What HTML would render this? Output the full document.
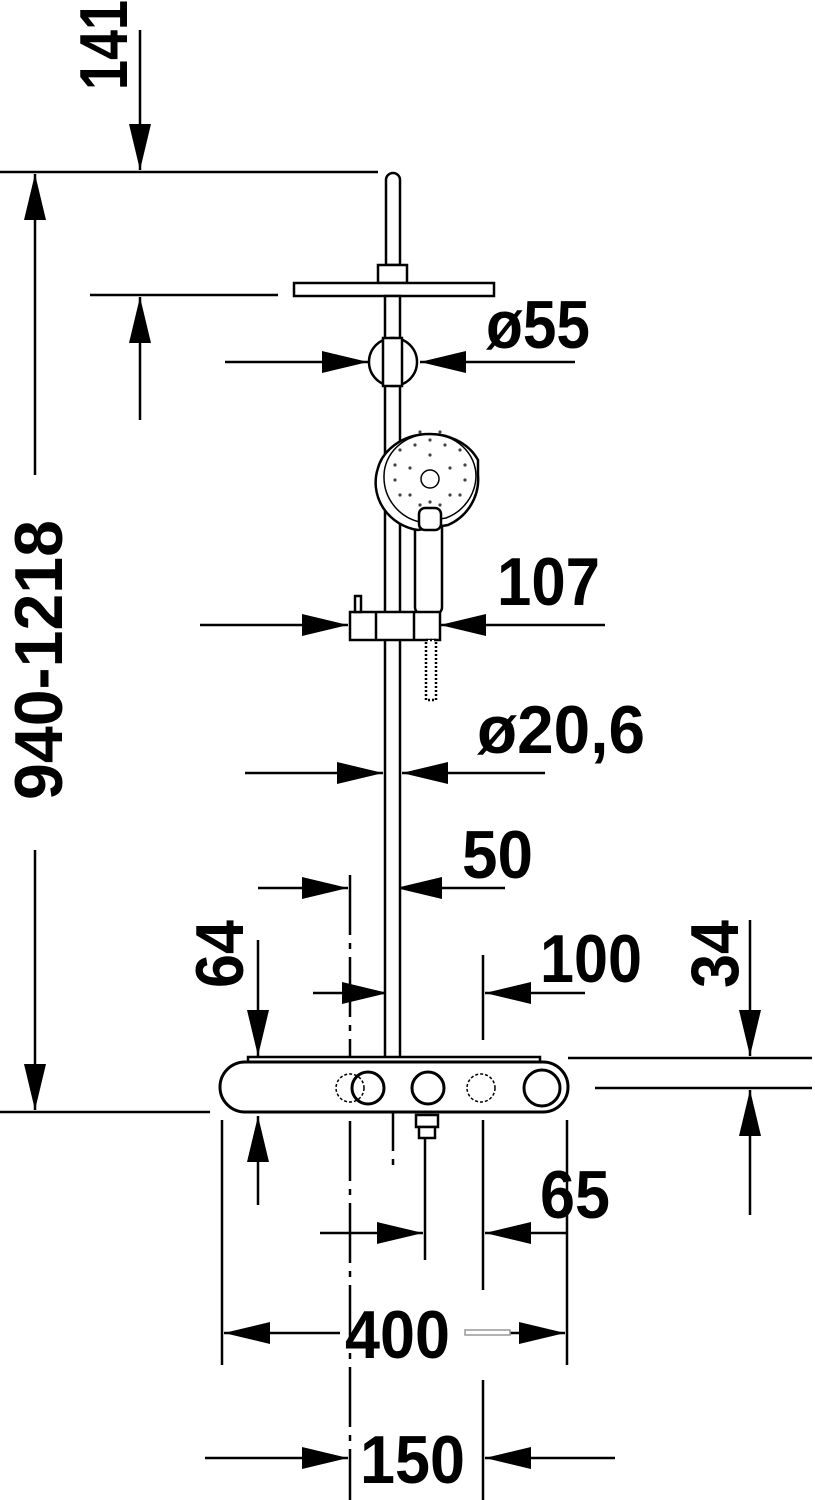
<!DOCTYPE html>
<html><head><style>
html,body{margin:0;padding:0;background:#fff}
svg{display:block}
text{font-family:"Liberation Sans Narrow","Liberation Sans",sans-serif;font-weight:bold;fill:#000}
</style></head><body>
<svg width="815" height="1500" viewBox="0 0 815 1500" xmlns="http://www.w3.org/2000/svg">
<defs>
<marker id="a" markerUnits="userSpaceOnUse" markerWidth="48" markerHeight="22" refX="46" refY="11" orient="auto">
<polygon points="0,0 46,11 0,22" fill="#000"/>
</marker>
</defs>
<g stroke="#000" stroke-width="2.5" fill="none">
<line x1="0" y1="172" x2="378" y2="172"/>
<line x1="90" y1="295" x2="278" y2="295"/>
<line x1="0" y1="1112" x2="210" y2="1112"/>
<line x1="568" y1="1058" x2="812" y2="1058"/>
<line x1="595" y1="1088" x2="812" y2="1088"/>
<line x1="222" y1="1120" x2="222" y2="1365"/>
<line x1="567" y1="1120" x2="567" y2="1365"/>
<line x1="483" y1="955" x2="483" y2="1040"/>
<line x1="483" y1="1120" x2="483" y2="1290"/>
<line x1="483" y1="1380" x2="483" y2="1500"/>
<line x1="350" y1="875" x2="350" y2="1500" stroke-dasharray="60,8,6,8"/>
<line x1="393" y1="845" x2="393" y2="1170" stroke-dasharray="60,8,6,8"/>
<line x1="425" y1="1125" x2="425" y2="1260"/>
<line x1="140" y1="30" x2="140" y2="170" marker-end="url(#a)"/>
<line x1="140" y1="420" x2="140" y2="297" marker-end="url(#a)"/>
<line x1="35" y1="475" x2="35" y2="174" marker-end="url(#a)"/>
<line x1="35" y1="850" x2="35" y2="1110" marker-end="url(#a)"/>
<line x1="225" y1="362" x2="368" y2="362" marker-end="url(#a)"/>
<line x1="575" y1="362" x2="420" y2="362" marker-end="url(#a)"/>
<line x1="200" y1="625" x2="348" y2="625" marker-end="url(#a)"/>
<line x1="605" y1="625" x2="440" y2="625" marker-end="url(#a)"/>
<line x1="245" y1="773" x2="383" y2="773" marker-end="url(#a)"/>
<line x1="545" y1="773" x2="402" y2="773" marker-end="url(#a)"/>
<line x1="258" y1="888" x2="348" y2="888" marker-end="url(#a)"/>
<line x1="505" y1="888" x2="396" y2="888" marker-end="url(#a)"/>
<line x1="258" y1="940" x2="258" y2="1056" marker-end="url(#a)"/>
<line x1="258" y1="1205" x2="258" y2="1116" marker-end="url(#a)"/>
<line x1="313" y1="993" x2="388" y2="993" marker-end="url(#a)"/>
<line x1="585" y1="993" x2="485" y2="993" marker-end="url(#a)"/>
<line x1="750" y1="920" x2="750" y2="1056" marker-end="url(#a)"/>
<line x1="750" y1="1215" x2="750" y2="1090" marker-end="url(#a)"/>
<line x1="320" y1="1233" x2="423" y2="1233" marker-end="url(#a)"/>
<line x1="567" y1="1233" x2="485" y2="1233" marker-end="url(#a)"/>
<line x1="340" y1="1333" x2="224" y2="1333" marker-end="url(#a)"/>
<line x1="510" y1="1333" x2="565" y2="1333" marker-end="url(#a)"/>
<line x1="205" y1="1458" x2="348" y2="1458" marker-end="url(#a)"/>
<line x1="615" y1="1458" x2="485" y2="1458" marker-end="url(#a)"/>
</g>
<rect x="465" y="1330" width="45" height="5" fill="#fff" stroke="#999" stroke-width="1.5"/>
<g stroke="#000" stroke-width="2.5" fill="#fff">
<path d="M386,265 V180 a7,7 0 0 1 14,0 V265 Z"/>
<rect x="378" y="265" width="29" height="18"/>
<rect x="294" y="283" width="200" height="13"/>
<rect x="385" y="296" width="15" height="762"/>
<circle cx="393" cy="362" r="24"/>
<rect x="383" y="338" width="19" height="48"/>
<rect x="415" y="505" width="27" height="110" rx="8"/>
<path d="M378,468 a53,44 0 0 1 100,-8 L478,475 a50,50 0 0 1 -30,50 L418,530 a50,48 0 0 1 -40,-62 Z"/>
<path d="M384,476 a46,42 0 0 1 92,0 a46,46 0 0 1 -30,42 L420,522 a46,46 0 0 1 -36,-46 Z" fill="none" stroke-width="1.5"/>
<rect x="419" y="508" width="22" height="22" rx="6"/>
<circle cx="430" cy="479" r="9" stroke-width="1.5"/>
<rect x="350" y="612" width="90" height="28"/>
<line x1="376" y1="612" x2="376" y2="640"/>
<line x1="414" y1="612" x2="414" y2="640"/>
<rect x="355" y="596" width="6" height="16"/>
<rect x="426" y="640" width="10" height="60" stroke-dasharray="2,2"/>
<rect x="248" y="1057" width="292" height="6"/>
<rect x="220" y="1062" width="348" height="50" rx="25" stroke-width="3"/>
<circle cx="368" cy="1088" r="16" stroke-width="3"/>
<circle cx="428" cy="1088" r="16" stroke-width="3"/>
<circle cx="542" cy="1088" r="18" stroke-width="3"/>
<circle cx="350" cy="1088" r="14" stroke-width="1.5" stroke-dasharray="3,2" fill="none"/>
<circle cx="481" cy="1088" r="14" stroke-width="1.5" stroke-dasharray="3,2" fill="none"/>
<rect x="416" y="1115" width="22" height="12"/>
<rect x="419" y="1127" width="16" height="11"/>
</g>
<g fill="#444">
<circle cx="430" cy="455" r="1.6"/><circle cx="410" cy="468" r="1.6"/><circle cx="450" cy="468" r="1.6"/>
<circle cx="400" cy="450" r="1.6"/><circle cx="460" cy="450" r="1.6"/><circle cx="395" cy="480" r="1.6"/><circle cx="465" cy="480" r="1.6"/>
<circle cx="430" cy="440" r="1.6"/><circle cx="415" cy="445" r="1.6"/><circle cx="445" cy="445" r="1.6"/>
<circle cx="410" cy="495" r="1.6"/><circle cx="450" cy="495" r="1.6"/><circle cx="430" cy="502" r="1.6"/>
<circle cx="395" cy="465" r="1.6"/><circle cx="465" cy="465" r="1.6"/><circle cx="400" cy="495" r="1.6"/><circle cx="460" cy="495" r="1.6"/>
<circle cx="420" cy="505" r="1.6"/><circle cx="440" cy="505" r="1.6"/><circle cx="420" cy="432" r="1.6"/><circle cx="440" cy="432" r="1.6"/>
</g>
<g font-size="68">
<text transform="translate(127,90) rotate(-90)" textLength="90" lengthAdjust="spacingAndGlyphs">141</text>
<text transform="translate(62,800) rotate(-90)" textLength="280" lengthAdjust="spacingAndGlyphs">940-1218</text>
<text x="486" y="348" textLength="104" lengthAdjust="spacingAndGlyphs">ø55</text>
<text x="497" y="605" textLength="103" lengthAdjust="spacingAndGlyphs">107</text>
<text x="477" y="753" textLength="168" lengthAdjust="spacingAndGlyphs">ø20,6</text>
<text x="462" y="878" textLength="71" lengthAdjust="spacingAndGlyphs">50</text>
<text transform="translate(243,988) rotate(-90)" textLength="68" lengthAdjust="spacingAndGlyphs">64</text>
<text x="540" y="982" textLength="102" lengthAdjust="spacingAndGlyphs">100</text>
<text transform="translate(738,988) rotate(-90)" textLength="68" lengthAdjust="spacingAndGlyphs">34</text>
<text x="540" y="1218" textLength="70" lengthAdjust="spacingAndGlyphs">65</text>
<text x="345" y="1358" textLength="105" lengthAdjust="spacingAndGlyphs">400</text>
<text x="360" y="1483" textLength="105" lengthAdjust="spacingAndGlyphs">150</text>
</g>
</svg>
</body></html>
